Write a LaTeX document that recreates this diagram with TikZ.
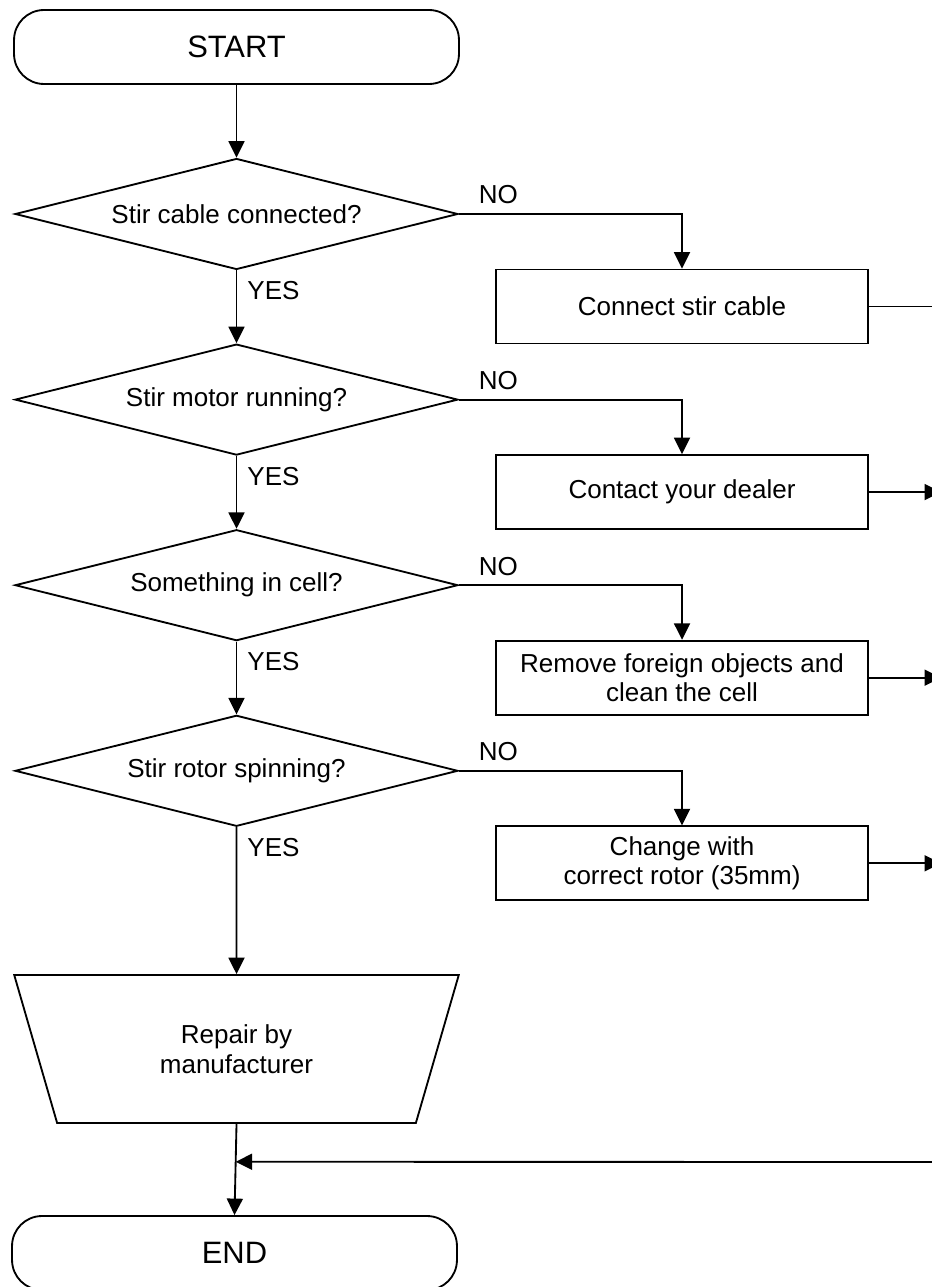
\documentclass[tikz,border=0pt]{standalone}
\usepackage{fontspec}
\setmainfont{Liberation Sans}
\usetikzlibrary{shapes.geometric,arrows.meta,calc}

\tikzset{
	terminal/.style={draw, rectangle, rounded corners=0.6cm, minimum width=8.9cm, minimum height=1.48cm, font=\fontsize{17.6}{20}\selectfont},
	decision/.style={draw, diamond, aspect=4, inner sep=0pt, minimum width=8.86cm, minimum height=2.22cm},
	action/.style={draw, rectangle, align=center, minimum width=7.44cm, minimum height=1.48cm},
	manual/.style={draw, trapezium, trapezium left angle=72, trapezium right angle=72, shape border rotate=180, trapezium stretches=true, align=center, minimum width=8.9cm, minimum height=2.96cm},
	flow/.style={-{Triangle[length=0.33cm, width=0.32cm]}},
	answer/.style={inner sep=0pt}
}

\begin{document}
\begin{tikzpicture}[x=0.02cm, y=-0.02cm, line width=1.05pt, font=\fontsize{14.8}{17}\selectfont]
	\useasboundingbox (0,0) rectangle (932,1287);
	\clip (0,0) rectangle (932,1287);

	\node[terminal] (start) at (236.5, 47) {START};

	% one question and its remedy per row
	\foreach \i/\q/\a in {1/{Stir cable connected?}/{Connect stir cable},
		2/{Stir motor running?}/{Contact your dealer},
		3/{Something in cell?}/{Remove foreign objects and\\clean the cell},
		4/{Stir rotor spinning?}/{Change with\\correct rotor (35mm)}}
	{
		\node[decision] (q\i) at (236.5, {214+185.6*(\i-1)}) {\q};
		\node[action] (a\i) at (682, {306.5+185.6*(\i-1)}) {\a};
		\coordinate (out\i) at (941, {306.5+185.6*(\i-1)});
		\draw[flow] (q\i.east) -| (a\i.north);
		\node[answer, anchor=south west, xshift=0.38cm, yshift=0.18cm] (no\i) at (q\i.east) {NO};
		\node[answer, anchor=north west, xshift=0.2cm, yshift=-0.2cm] (yes\i) at (q\i.south) {YES};
	}

	\node[manual] (repair) at (236.5, 1049) {Repair by\\manufacturer};
	\node[terminal] (end) at (234.5, 1253) {END};

	\draw[flow] (start) -- (q1);
	\foreach \i/\j in {1/2, 2/3, 3/4}
	{
		\draw[flow] (q\i.south) -- (q\j.north);
	}
	\draw[flow] (q4.south) -- (repair.north);
	\draw[flow] (repair.south) -- (end.north);

	% remedies lead back to the end
	\draw (a1.east) -- (out1);
	\foreach \i in {2,3,4}
	{
		\draw[flow] (a\i.east) -- (out\i);
	}
	\coordinate (join) at ($(repair.south)!0.415!(end.north)$);
	\coordinate (back) at (945, 1162);
	\draw[flow] (back) -- (join);

\end{tikzpicture}
\end{document}
